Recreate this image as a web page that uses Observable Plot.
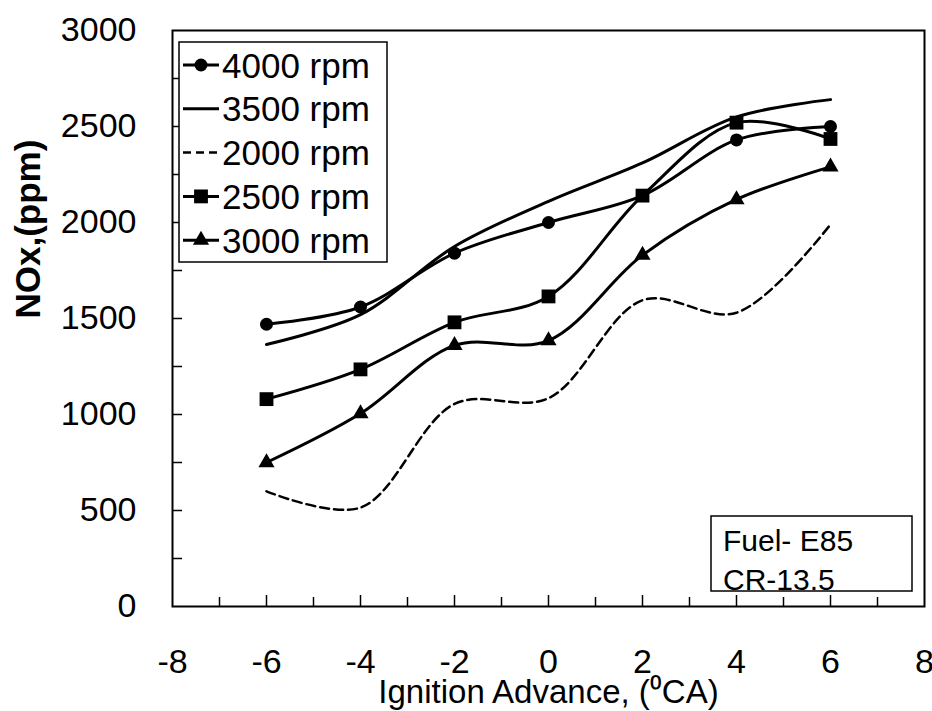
<!DOCTYPE html>
<html>
<head>
<meta charset="utf-8">
<script src="https://cdn.jsdelivr.net/npm/d3@7"></script>
<script src="https://cdn.jsdelivr.net/npm/@observablehq/plot@0.6"></script>
<style>
  html, body { margin: 0; padding: 0; background: white; }
  #chart { position: relative; width: 932px; height: 711px; }
</style>
</head>
<body>
<div id="chart"></div>
<script>
// ---- data ----
const advance = [-6, -4, -2, 0, 2, 4, 6];
const rpm4000 = [1470, 1560, 1840, 2000, 2140, 2430, 2500];
const rpm3500 = [1365, 1520, 1875, 2110, 2310, 2550, 2640];
const rpm2000 = [600, 515, 1055, 1085, 1595, 1530, 1990];
const rpm2500 = [1080, 1235, 1480, 1615, 2140, 2520, 2435];
const rpm3000 = [750, 1005, 1360, 1385, 1830, 2120, 2290];
const seriesNames = ["4000 rpm", "3500 rpm", "2000 rpm", "2500 rpm", "3000 rpm"];
const xTickLabels = [-8, -6, -4, -2, 0, 2, 4, 6, 8];
const xMinorTicks = [-7, -5, -3, -1, 1, 3, 5, 7];
const xMajorTicks = [-6, -4, -2, 0, 2, 4, 6];
const yTickLabels = [0, 500, 1000, 1500, 2000, 2500, 3000];
const yTicks = [250, 500, 750, 1000, 1250, 1500, 1750, 2000, 2250, 2500, 2750];
const xTitle = "Ignition Advance, (\u2070CA)";
const yTitle = "NOx,(ppm)";
const boxLines = ["Fuel- E85", "CR-13.5"];

const valuesByName = {
  "4000 rpm": rpm4000, "3500 rpm": rpm3500, "2000 rpm": rpm2000,
  "2500 rpm": rpm2500, "3000 rpm": rpm3000
};
const rows = name => advance.map((x, i) => ({x, y: valuesByName[name][i], name}));
const solid = ["4000 rpm", "3500 rpm", "2500 rpm", "3000 rpm"].flatMap(rows);
const dashed = rows("2000 rpm");

const FONT = "'Liberation Sans', Arial, Helvetica, sans-serif";

const chart = Plot.plot({
  width: 932, height: 711,
  marginLeft: 172, marginRight: 8, marginTop: 30, marginBottom: 105,
  x: {domain: [-8, 8]},
  y: {domain: [0, 3000]},
  style: {fontFamily: FONT, color: "black", background: "white", overflow: "visible"},
  marks: [
    Plot.tickX(xMinorTicks, {x: d => d, insetTop: 567, stroke: "black", strokeWidth: 1.5}),
    Plot.tickX(xMajorTicks, {x: d => d, insetTop: 565, stroke: "black", strokeWidth: 1.5}),
    Plot.tickY(yTicks, {y: d => d, insetRight: 742, stroke: "black", strokeWidth: 1.5}),
    Plot.axisX(xTickLabels, {tickSize: 0, tickPadding: 42, fontSize: 34, label: null, tickFormat: d => `${d}`}),
    Plot.axisY(yTickLabels, {tickSize: 0, tickPadding: 36, fontSize: 34, label: null, tickFormat: d => `${d}`}),
    Plot.line(solid, {x: "x", y: "y", z: "name", curve: "catmull-rom", stroke: "black", strokeWidth: 3}),
    Plot.line(dashed, {x: "x", y: "y", curve: "catmull-rom", stroke: "black", strokeWidth: 2.5, strokeDasharray: "9,5"}),
    Plot.dot(rows("4000 rpm"), {x: "x", y: "y", r: 6.5, fill: "black", stroke: null, symbol: "circle"}),
    Plot.dot(rows("2500 rpm"), {x: "x", y: "y", r: 7.8, fill: "black", stroke: null, symbol: "square"}),
    Plot.dot(rows("3000 rpm"), {x: "x", y: "y", r: 6, fill: "black", stroke: null, symbol: "triangle"}),
    Plot.frame({stroke: "black", strokeWidth: 2}),
    Plot.text([xTitle], {frameAnchor: "bottom", dy: 86, fontSize: 33, lineAnchor: "middle", fill: "black"}),
    Plot.text([yTitle], {frameAnchor: "left", dx: -144, rotate: -90, fontSize: 35, fontWeight: "bold", fill: "black"})
  ]
});
document.getElementById("chart").appendChild(chart);

// ---- legend and annotation box ----
const svg = d3.select(chart);
const lg = svg.append("g").attr("text-anchor", "start");
lg.append("rect").attr("x", 179).attr("y", 42).attr("width", 208).attr("height", 220)
  .attr("fill", "white").attr("stroke", "black").attr("stroke-width", 1.5);
const symbols = {
  "4000 rpm": d3.symbol(d3.symbolCircle, Math.PI * 6.5 * 6.5),
  "2500 rpm": d3.symbol(d3.symbolSquare, Math.PI * 7.8 * 7.8),
  "3000 rpm": d3.symbol(d3.symbolTriangle, Math.PI * 6 * 6)
};
seriesNames.forEach((name, i) => {
  const cy = 65 + i * 43.8;
  lg.append("line").attr("x1", 183).attr("x2", 219).attr("y1", cy).attr("y2", cy)
    .attr("stroke", "black").attr("stroke-width", name === "2000 rpm" ? 2.5 : 3)
    .attr("stroke-dasharray", name === "2000 rpm" ? "8,5" : null);
  if (symbols[name]) {
    lg.append("path").attr("d", symbols[name]()).attr("transform", `translate(201,${cy})`).attr("fill", "black");
  }
  lg.append("text").attr("x", 222).attr("y", cy).attr("dy", "0.36em").attr("text-anchor", "start")
    .attr("font-size", 35).attr("font-family", FONT).attr("fill", "black").text(name);
});

const bx = svg.append("g").attr("text-anchor", "start");
bx.append("rect").attr("x", 711).attr("y", 516).attr("width", 201).attr("height", 75)
  .attr("fill", "white").attr("stroke", "black").attr("stroke-width", 1.5);
boxLines.forEach((t, i) => {
  bx.append("text").attr("x", 723).attr("y", 551 + i * 39).attr("text-anchor", "start")
    .attr("font-size", 30).attr("font-family", FONT).attr("fill", "black").text(t);
});
</script>
</body>
</html>
